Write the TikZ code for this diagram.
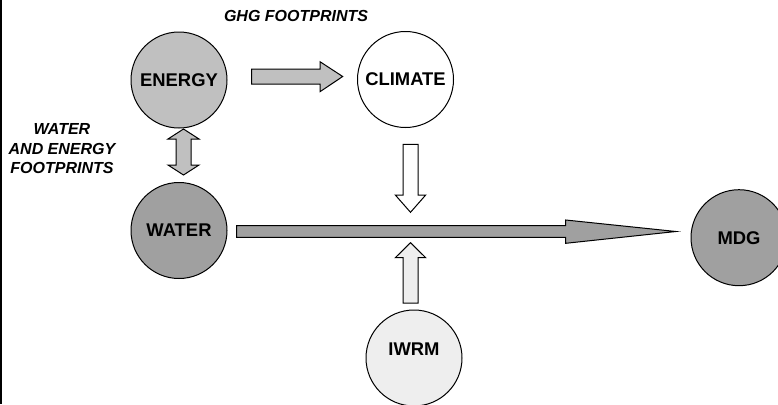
\documentclass[tikz,border=0pt]{standalone}
\usepackage{fontspec}
\setmainfont{Liberation Sans}

\tikzset{every picture/.style={line width=0.75pt}}
\tikzset{
  circ/.style={circle, draw, minimum size=72pt, inner sep=0pt, outer sep=0pt, font=\fontsize{13.8}{16}\selectfont\bfseries},
  tag/.style={inner sep=0.75pt, align=center, font=\fontsize{12}{14.6}\selectfont\bfseries\itshape}
}

\begin{document}
\begin{tikzpicture}[x=0.75pt,y=0.75pt,yscale=-1,xscale=1]
\useasboundingbox (0,0) rectangle (778,404);

%Straight Lines
\draw [line width=1.1]   (1,0) -- (1,404) ;

%Shape: Circle
\draw (179,80) node [circ, fill={rgb, 255:red, 192; green, 192; blue, 192 }] (energy) {ENERGY};
%Shape: Circle
\draw (405.5,79.5) node [circ, fill=white] (climate) {CLIMATE};
%Shape: Circle
\draw (179,230.5) node [circ, fill={rgb, 255:red, 160; green, 160; blue, 160 }] (water) {WATER};
%Shape: Circle
\draw (414,358) node [circ, fill={rgb, 255:red, 238; green, 238; blue, 238 }] (iwrm) {};
%Shape: Circle
\draw (739,237.7) node [circ, fill={rgb, 255:red, 160; green, 160; blue, 160 }] (mdg) {MDG};

%Right Arrow
\draw  [fill={rgb, 255:red, 192; green, 192; blue, 192 }] (251.7,69) -- (320,69) -- (320,61.7) -- (342.7,76.5) -- (320,91.7) -- (320,84) -- (251.7,84) -- cycle ;
%Up Down Arrow
\draw  [fill={rgb, 255:red, 192; green, 192; blue, 192 }] (183.5,129) -- (199,139) -- (191,139) -- (191,165) -- (199,165) -- (183.5,175) -- (168,165) -- (176,165) -- (176,139) -- (168,139) -- cycle ;
%Down Arrow
\draw  [fill=white] (403,144.3) -- (418,144.3) -- (418,195) -- (425.7,195) -- (410.5,212.3) -- (395.3,195) -- (403,195) -- cycle ;
%Up Arrow
\draw  [fill={rgb, 255:red, 238; green, 238; blue, 238 }] (403,303) -- (403,257.7) -- (395.3,257.7) -- (410.5,242.7) -- (425.7,257.7) -- (418,257.7) -- (418,303) -- cycle ;
%Right Arrow
\draw  [fill={rgb, 255:red, 160; green, 160; blue, 160 }] (236.7,225.7) -- (565.7,225.7) -- (565.7,220) -- (676,231.5) -- (565.7,243.3) -- (565.7,237.3) -- (236.7,237.3) -- cycle ;

% Text Node
\draw (414,349) node [inner sep=0.75pt, font=\fontsize{13.8}{16}\selectfont\bfseries] (iwrmtext) {IWRM};
% Text Node
\draw (296,16) node [tag] (ghg) {GHG FOOTPRINTS};
% Text Node
\draw (62,148.7) node [tag] (wef) {WATER\\AND ENERGY\\FOOTPRINTS};

\end{tikzpicture}
\end{document}
